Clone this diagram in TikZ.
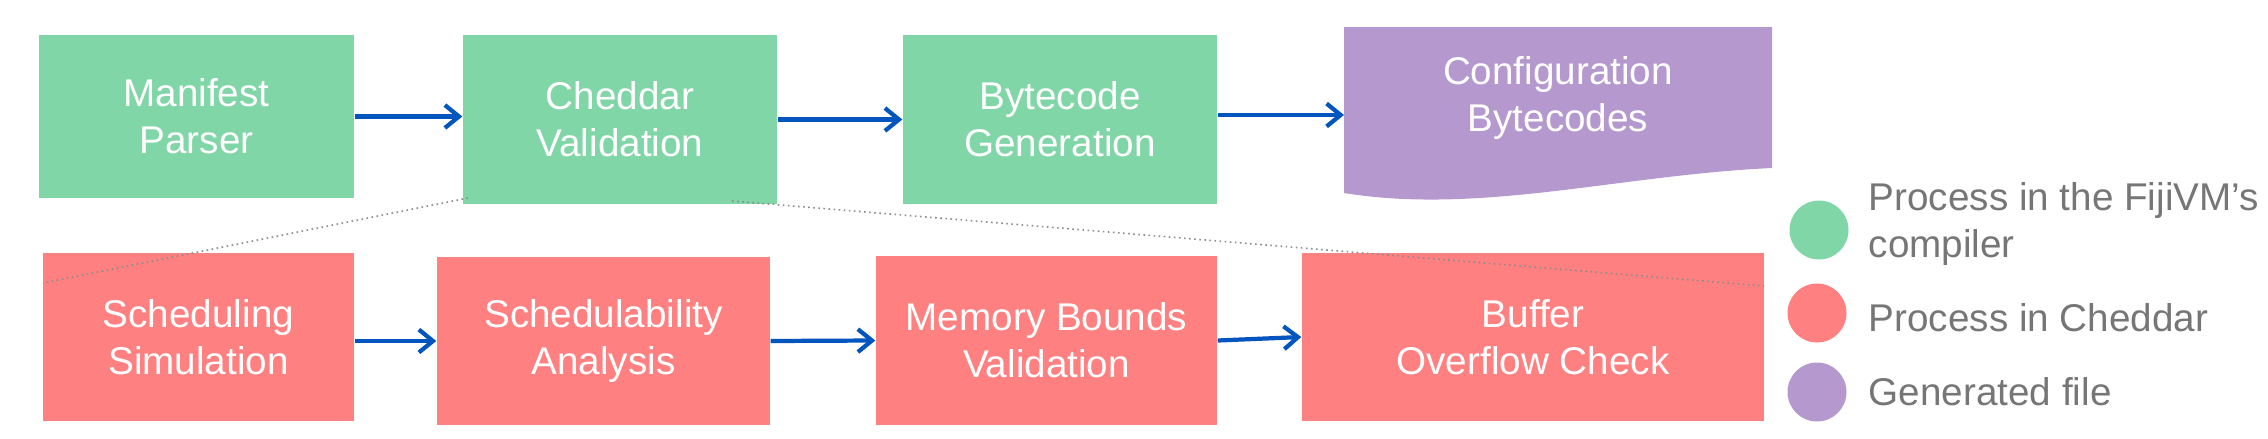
\documentclass[tikz,border=0pt]{standalone}
\usepackage{fontspec}
\setmainfont{Liberation Sans}
\usetikzlibrary{arrows.meta}
\usetikzlibrary{positioning}

\definecolor{fijigreen}{RGB}{128,214,167}
\definecolor{cheddarred}{RGB}{255,128,128}
\definecolor{filepurple}{RGB}{180,152,206}
\definecolor{arrowblue}{RGB}{0,85,190}
\definecolor{legendgray}{RGB}{118,118,118}

\begin{document}
\begin{tikzpicture}[
    font=\fontsize{11}{13.3}\selectfont
]
\tikzset{
    procg/.style = {rectangle, fill=fijigreen, text=white, align=center, inner sep=0pt},
    procr/.style = {rectangle, fill=cheddarred, text=white, align=center, inner sep=0pt},
    edgen/.style = {-{Straight Barb[length=4pt,width=6.5pt]}, line width=1.2pt, arrowblue},
    zoomline/.style = {densely dotted, black!45, line width=0.45pt},
    legdot/.style = {circle, minimum size=0.59cm, inner sep=0pt},
    legtext/.style = {anchor=base west, text=legendgray, align=left, inner sep=0pt}
}
\useasboundingbox (0,0) rectangle (22.68,4.38);
% FijiVM steps
\node[procg, minimum width=3.15cm, minimum height=1.63cm] at (1.965,3.215) (mp) {Manifest\\Parser};
\node[procg, minimum width=3.14cm, minimum height=1.69cm] at (6.20,3.185) (cv) {Cheddar\\Validation};
\node[procg, minimum width=3.14cm, minimum height=1.69cm] at (10.60,3.185) (bg) {Bytecode\\Generation};
% generated file
\fill[filepurple] (13.44,4.11) -- (17.72,4.11) -- (17.72,2.70)
    .. controls (16.20,2.63) and (14.80,2.23) .. (13.44,2.45) -- cycle;
\node[text=white, align=center, inner sep=0pt] at (15.58,3.40) (cb) {Configuration\\Bytecodes};
\coordinate (cbl) at (13.44,3.23);
% Cheddar steps
\node[procr, minimum width=3.11cm, minimum height=1.68cm] at (1.985,1.01) (ss) {Scheduling\\Simulation};
\node[procr, minimum width=3.33cm, minimum height=1.68cm] at (6.035,0.97) (sa) {Schedulability\\Analysis};
\node[procr, minimum width=3.41cm, minimum height=1.69cm] at (10.465,0.975) (mb) {Memory Bounds\\Validation};
\node[procr, minimum width=4.62cm, minimum height=1.68cm] at (15.33,1.01) (bo) {Buffer\\Overflow Check};
% arrows
\draw[edgen] (mp.east) -- (mp.east -| cv.west);
\draw[edgen] (cv.east) -- (bg.west);
\draw[edgen] (bg.east |- cbl) -- (cbl);
\draw[edgen] (ss.east |- sa.west) -- (sa.west);
\draw[edgen] (sa.east) -- (mb.west);
\draw[edgen] (mb.east) -- (bo.west);
% zoom lines
\coordinate (zl) at (4.68,2.40);
\coordinate (zr) at (7.32,2.37);
\coordinate (zls) at (0.43,1.55);
\coordinate (zrs) at (17.64,1.52);
\draw[zoomline] (zl) -- (zls);
\draw[zoomline] (zr) -- (zrs);
% legend
\node[legdot, fill=fijigreen] at (18.19,2.08) (lg) {};
\node[legdot, fill=cheddarred] at (18.17,1.25) (lr) {};
\node[legdot, fill=filepurple] at (18.17,0.46) (lp) {};
\node[legtext] at (18.68,1.81) (lgt) {Process in the FijiVM’s\\compiler};
\node[legtext] at (18.68,1.07) (lrt) {Process in Cheddar};
\node[legtext] at (18.68,0.33) (lpt) {Generated file};
\end{tikzpicture}
\end{document}
